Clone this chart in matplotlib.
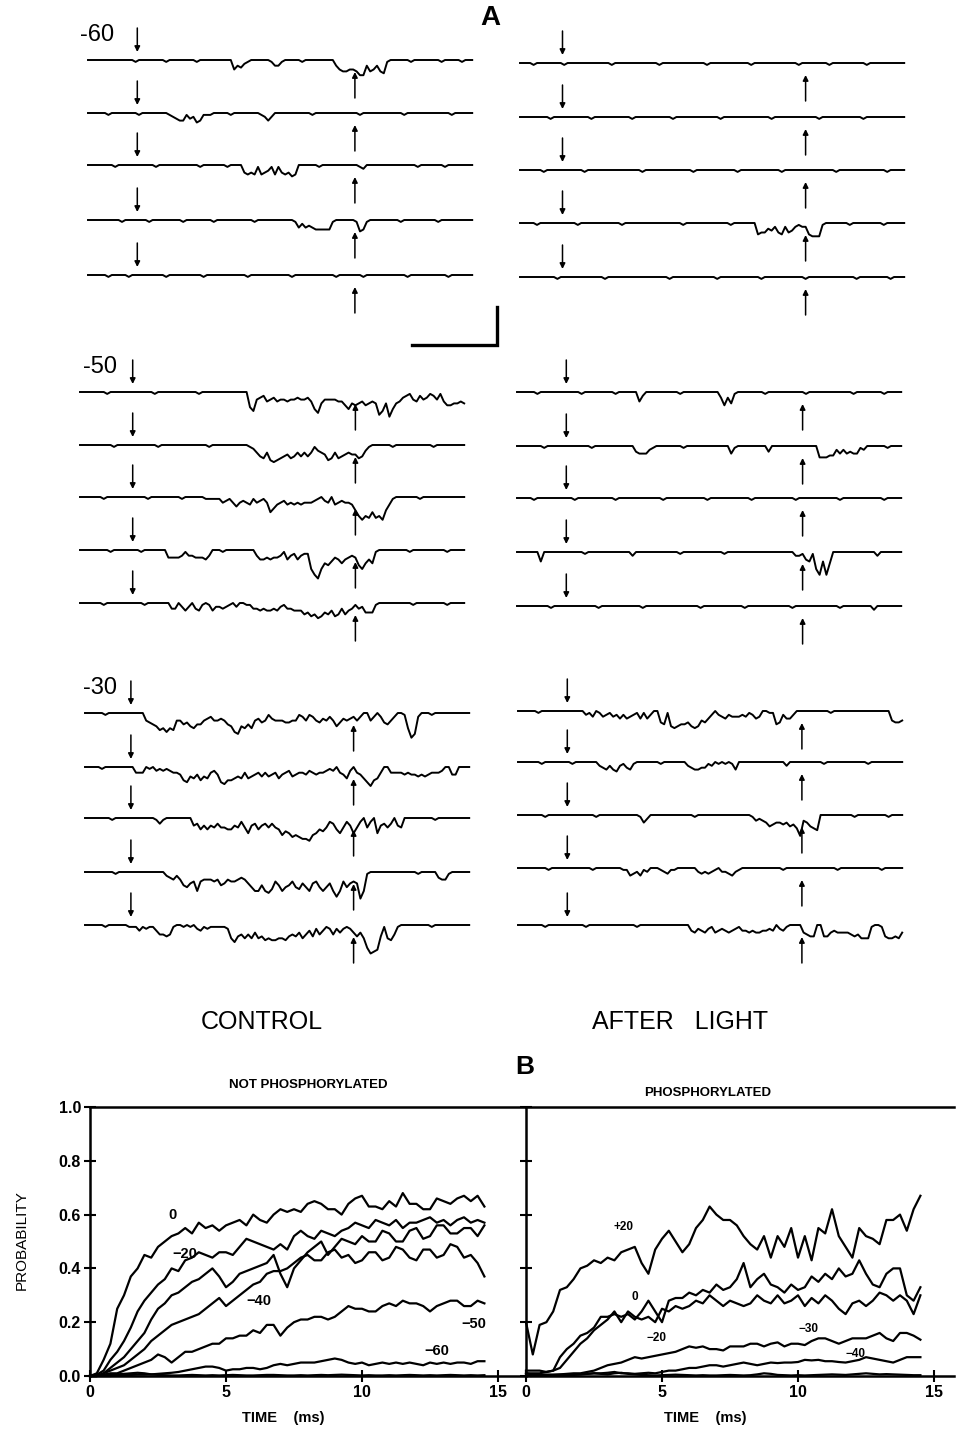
import numpy as np
import matplotlib.pyplot as plt

plt.rcParams['font.family'] = ['Liberation Sans', 'DejaVu Sans']

W, H = 956, 1434
PX_MS = 17.0      # part A: pixels per ms
PX_PA = 19.0      # part A: pixels per pA
DT = 0.2          # ms per sample in the trace codes
N_SAMP = 114
UNIT = 0.1        # pA per hex step in the trace codes

# ---------------- part A data: single-channel records ----------------
# each trace: list of (start ms, hex depth string, one char per 0.2 ms)
ctrl_m60 = [
    [(2.8, "1"), (4.6, "1"), (6.4, "1"), (8.6, "53421"), (10.8, "1331"), (12.6, "1"),
     (14.7, "3566556883653671"), (19.0, "1"), (20.8, "1"), (22.0, "1")],
    [(1.2, "1"), (3.0, "1"), (4.8, "12344132541"), (7.0, "11"), (8.4, "1"), (10.2, "1242"),
     (13.2, "1"), (16.0, "1"), (18.6, "1"), (21.4, "1")],
    [(1.6, "1"), (4.0, "1"), (6.6, "1"), (8.2, "1"), (9.2, "4545154315145465"), (13.6, "1"),
     (16.0, "12"), (19.4, "1"), (21.0, "1")],
    [(2.0, "1"), (3.6, "1"), (5.6, "1"), (7.4, "1"), (9.8, "1"), (12.2, "142434555551"),
     (15.8, "1651"), (18.4, "1"), (20.6, "1")],
    [(1.2, "1"), (2.4, "1"), (4.6, "1"), (6.8, "1"), (9.4, "1"), (12.0, "1"), (14.6, "1"),
     (16.2, "1"), (18.8, "1"), (21.2, "1")],
]
after_m60 = [
    [(0.8, "1"), (2.6, "1"), (5.4, "1"), (8.2, "1"), (11.0, "1"), (13.6, "1"), (16.4, "1"),
     (18.2, "1"), (20.4, "1")],
    [(1.8, "1"), (4.2, "1"), (6.6, "1"), (9.0, "1"), (11.8, "1"), (14.8, "1"), (17.6, "1"),
     (20.2, "1")],
    [(1.4, "1"), (3.8, "1"), (7.2, "1"), (10.2, "1"), (12.8, "1"), (15.4, "1"), (18.6, "1"),
     (21.6, "1")],
    [(1.0, "1"), (3.4, "1"), (6.0, "1"), (9.6, "1"), (12.4, "1"),
     (14.0, "65534256254212267771"), (19.4, "1"), (21.4, "1")],
    [(2.2, "1"), (5.0, "1"), (8.8, "1"), (11.6, "1"), (14.2, "1"), (16.8, "1"), (19.8, "1"),
     (21.8, "1")],
]
ctrl_m50 = [
    [(1.6, "1"), (4.4, "1"), (7.0, "1"),
     (9.8, "08a43254354454434435" "9b64444557967657656c" "a6d9653214524312415776656")],
    [(2.0, "1"), (4.6, "1"), (7.6, "1"), (10.0, "124674898765764646413458747654557631"),
     (18.4, "1"), (20.8, "1")],
    [(1.4, "1"), (4.0, "1"), (6.0, "1"),
     (7.4, "111113213532341321386432434343332102304323347acab8bac741"), (20.0, "1")],
    [(1.8, "1"), (3.6, "1"), (5.2, "44443133444530"), (8.4, "1"),
     (10.4, "3554544315325322adfa78645754348a75710"), (19.4, "1"), (21.6, "1")],
    [(1.4, "1"), (3.8, "1"),
     (5.4, "33024203410142232102001133434434213344465768756476364313255510"),
     (19.6, "1"), (21.6, "1")],
]
after_m50 = [
    [(1.2, "1"), (3.8, "1"), (5.8, "1"), (7.2, "52"), (9.6, "1"), (12.0, "37361"),
     (14.6, "1"), (17.0, "1"), (19.8, "1"), (21.6, "1")],
    [(1.6, "1"), (4.4, "1"), (7.0, "344421"), (9.8, "1"), (12.6, "41"), (14.8, "3"),
     (17.8, "66655242434412"), (21.8, "1")],
    [(1.0, "1"), (3.4, "1"), (5.8, "1"), (8.6, "1"), (11.2, "1"), (13.8, "1"), (16.4, "1"),
     (19.0, "1"), (21.6, "1")],
    [(1.4, "5"), (4.0, "1"), (6.8, "2"), (9.6, "1"), (12.2, "1"), (16.4, "2214519c5c60"),
     (21.2, "2")],
    [(2.0, "1"), (4.8, "1"), (7.4, "1"), (10.8, "1"), (13.4, "1"), (16.2, "1"), (19.0, "1"),
     (21.0, "2")],
]
ctrl_m30 = [
    [(1.2, "1"),
     (3.6, "456798a894" "4657866432" "443467ab78" "6843541344" "4554412412"
           "4534247534" "3242004202" "56420018db" "20"), (20.4, "1")],
    [(1.0, "1"),
     (3.0, "3330102121" "2334785647" "5632489776" "5636543535" "4364325433"
           "4234332120" "346203468a" "7630033334" "3445454333" "200440")],
    [(1.6, "1"), (4.2, "131"),
     (6.4, "4364645355" "6645258436" "435356978a" "9abbc98675" "2368524852"
           "0520843530" "450"), (20.6, "1")],
    [(1.8, "1"),
     (4.8, "234247865a" "544454764" "5543468aa7" "ab957a875" "8968a658a"
           "86ada58656" "ea10"), (19.6, "1"), (20.8, "3441")],
    [(1.2, "1"),
     (2.6, "1113121135" "5651001010" "2312111112" "7965757476" "8788778656"
           "4753625312" "5242124647" "cfed617851" "0"), (20.4, "1")],
]
after_m30 = [
    [(1.2, "1"),
     (3.8, "0213013213" "242432141" "4200671898" "7768985642" "023423332"
           "3124300117" "624420"), (18.4, "1"), (22.0, "5665")],
    [(1.4, "1"), (3.2, "1"), (4.8, "23424521341"), (8.4, "1"),
     (10.0, "2344331201010140"), (15.8, "2"), (18.0, "1"), (20.6, "1")],
    [(1.6, "1"), (4.6, "1"), (7.2, "142"), (10.4, "1"),
     (13.8, "13234654454657b346780"), (19.8, "1"), (21.8, "1")],
    [(1.8, "1"), (4.4, "1"), (6.2, "1143241200012311"), (10.6, "2323210223421"),
     (15.6, "1"), (18.8, "1"), (21.4, "1")],
    [(1.6, "1"), (4.0, "1"), (7.0, "1"),
     (10.2, "3423421432" "3432133434" "4332302310" "0004566006" "6434444565"
            "7771001677" "674")],
]

row_labels = ["-60", "-50", "-30"]
ctrl_stim = [(2.9, 15.7), (3.1, 16.2), (2.7, 15.8)]     # ms, pulse on / off
after_stim = [(2.5, 16.8), (2.9, 16.8), (2.9, 16.7)]
scale_ms, scale_pa = 5, 2

# ---------------- part B data: open probability ----------------
t_ms = np.arange(59) * 0.25

np_0 = [0.00, 0.01, 0.06, 0.12, 0.25, 0.30, 0.37, 0.40, 0.45, 0.44,
        0.48, 0.50, 0.52, 0.53, 0.55, 0.53, 0.57, 0.55, 0.56, 0.54,
        0.56, 0.57, 0.58, 0.56, 0.60, 0.58, 0.57, 0.60, 0.62, 0.61,
        0.62, 0.61, 0.64, 0.65, 0.64, 0.62, 0.62, 0.60, 0.64, 0.66,
        0.67, 0.63, 0.63, 0.62, 0.65, 0.63, 0.68, 0.64, 0.64, 0.62,
        0.62, 0.66, 0.65, 0.64, 0.66, 0.67, 0.65, 0.67, 0.63]
np_m20 = [0, 0.005, 0.02, 0.06, 0.09, 0.13, 0.18, 0.24, 0.28, 0.31,
          0.34, 0.36, 0.40, 0.39, 0.43, 0.44, 0.46, 0.45, 0.44, 0.46,
          0.46, 0.45, 0.48, 0.51, 0.50, 0.49, 0.48, 0.47, 0.49, 0.47,
          0.52, 0.54, 0.52, 0.51, 0.54, 0.53, 0.52, 0.54, 0.55, 0.57,
          0.56, 0.55, 0.58, 0.57, 0.56, 0.58, 0.55, 0.57, 0.57, 0.58,
          0.59, 0.57, 0.58, 0.56, 0.58, 0.59, 0.57, 0.58, 0.57]
np_m30 = [0, 0, 0.01, 0.03, 0.05, 0.07, 0.10, 0.13, 0.16, 0.21,
          0.25, 0.27, 0.30, 0.31, 0.33, 0.35, 0.36, 0.38, 0.40, 0.37,
          0.33, 0.35, 0.38, 0.39, 0.40, 0.41, 0.42, 0.45, 0.38, 0.33,
          0.40, 0.43, 0.46, 0.48, 0.50, 0.45, 0.48, 0.51, 0.50, 0.49,
          0.52, 0.50, 0.50, 0.54, 0.53, 0.50, 0.50, 0.54, 0.55, 0.51,
          0.52, 0.56, 0.56, 0.53, 0.53, 0.55, 0.55, 0.52, 0.56]
np_m40 = [0, 0, 0.01, 0.02, 0.03, 0.04, 0.06, 0.08, 0.10, 0.13,
          0.15, 0.17, 0.19, 0.20, 0.21, 0.22, 0.23, 0.25, 0.27, 0.29,
          0.26, 0.28, 0.30, 0.32, 0.34, 0.35, 0.38, 0.39, 0.39, 0.40,
          0.42, 0.44, 0.45, 0.43, 0.43, 0.46, 0.47, 0.44, 0.45, 0.42,
          0.43, 0.46, 0.46, 0.43, 0.44, 0.48, 0.47, 0.44, 0.43, 0.47,
          0.47, 0.44, 0.45, 0.49, 0.48, 0.44, 0.45, 0.42, 0.37]
np_m50 = [0, 0, 0.005, 0.01, 0.01, 0.02, 0.03, 0.04, 0.05, 0.06,
          0.08, 0.07, 0.05, 0.07, 0.09, 0.09, 0.10, 0.11, 0.12, 0.12,
          0.14, 0.14, 0.15, 0.15, 0.17, 0.16, 0.19, 0.19, 0.15, 0.18,
          0.20, 0.21, 0.21, 0.22, 0.22, 0.21, 0.22, 0.24, 0.26, 0.25,
          0.25, 0.24, 0.24, 0.26, 0.27, 0.26, 0.28, 0.27, 0.27, 0.26,
          0.24, 0.26, 0.27, 0.28, 0.28, 0.26, 0.26, 0.28, 0.27]
np_m60 = [0, 0, 0, 0, 0.002, 0.003, 0.004, 0.005, 0.005, 0.006,
          0.008, 0.01, 0.012, 0.015, 0.02, 0.025, 0.03, 0.035, 0.035, 0.03,
          0.02, 0.025, 0.025, 0.03, 0.03, 0.025, 0.03, 0.04, 0.045, 0.04,
          0.045, 0.05, 0.05, 0.05, 0.055, 0.06, 0.065, 0.06, 0.05, 0.045,
          0.05, 0.04, 0.045, 0.05, 0.045, 0.05, 0.045, 0.05, 0.045, 0.04,
          0.05, 0.045, 0.05, 0.045, 0.05, 0.05, 0.045, 0.055, 0.055]
np_m70 = [0, 0, 0.002, 0.004, 0.006, 0.008, 0.01, 0.012, 0.01, 0.006,
          0.004, 0.003, 0.002, 0.002, 0.003, 0.004, 0.003, 0.002, 0.003, 0.002,
          0.003, 0.004, 0.003, 0.002, 0.002, 0.003, 0.004, 0.004, 0.003, 0.002,
          0.002, 0.003, 0.002, 0.003, 0.004, 0.003, 0.004, 0.005, 0.004, 0.003,
          0.002, 0.003, 0.002, 0.002, 0.003, 0.002, 0.003, 0.004, 0.003, 0.002,
          0.003, 0.002, 0.003, 0.004, 0.003, 0.002, 0.003, 0.002, 0.003]

ph_p20 = [0.20, 0.08, 0.19, 0.20, 0.24, 0.32, 0.33, 0.36, 0.40, 0.41,
          0.43, 0.42, 0.44, 0.43, 0.46, 0.47, 0.48, 0.42, 0.38, 0.47,
          0.51, 0.54, 0.50, 0.46, 0.49, 0.55, 0.58, 0.63, 0.60, 0.58,
          0.58, 0.56, 0.52, 0.49, 0.47, 0.52, 0.44, 0.52, 0.48, 0.55,
          0.44, 0.52, 0.43, 0.55, 0.53, 0.62, 0.52, 0.48, 0.44, 0.55,
          0.52, 0.51, 0.49, 0.58, 0.58, 0.60, 0.54, 0.62, 0.67]
ph_0 = [0.02, 0.02, 0.02, 0.015, 0.02, 0.07, 0.10, 0.12, 0.15, 0.16,
        0.18, 0.22, 0.22, 0.23, 0.22, 0.23, 0.21, 0.24, 0.28, 0.24,
        0.20, 0.28, 0.29, 0.29, 0.31, 0.30, 0.32, 0.31, 0.34, 0.32,
        0.33, 0.36, 0.42, 0.33, 0.36, 0.38, 0.34, 0.33, 0.31, 0.34,
        0.32, 0.33, 0.37, 0.35, 0.38, 0.36, 0.40, 0.37, 0.38, 0.43,
        0.38, 0.34, 0.33, 0.38, 0.40, 0.40, 0.30, 0.28, 0.33]
ph_m20 = [0.01, 0.01, 0.01, 0.015, 0.02, 0.03, 0.06, 0.09, 0.12, 0.14,
          0.17, 0.19, 0.21, 0.24, 0.20, 0.24, 0.22, 0.21, 0.22, 0.20,
          0.25, 0.24, 0.26, 0.25, 0.26, 0.28, 0.27, 0.30, 0.28, 0.26,
          0.28, 0.27, 0.26, 0.27, 0.30, 0.28, 0.27, 0.30, 0.27, 0.28,
          0.30, 0.26, 0.29, 0.27, 0.30, 0.28, 0.25, 0.23, 0.27, 0.28,
          0.26, 0.28, 0.31, 0.30, 0.28, 0.30, 0.28, 0.23, 0.30]
ph_m30 = [0, 0.003, 0.005, 0.005, 0.005, 0.006, 0.008, 0.01, 0.01, 0.015,
          0.02, 0.03, 0.04, 0.045, 0.05, 0.06, 0.07, 0.065, 0.07, 0.075,
          0.08, 0.085, 0.09, 0.10, 0.11, 0.105, 0.11, 0.10, 0.10, 0.095,
          0.11, 0.11, 0.11, 0.12, 0.12, 0.11, 0.12, 0.125, 0.11, 0.12,
          0.12, 0.115, 0.13, 0.14, 0.14, 0.13, 0.12, 0.13, 0.14, 0.14,
          0.14, 0.15, 0.16, 0.14, 0.13, 0.16, 0.16, 0.15, 0.135]
ph_m40 = [0, 0.002, 0.003, 0.004, 0.004, 0.005, 0.005, 0.006, 0.006, 0.008,
          0.01, 0.01, 0.012, 0.015, 0.01, 0.01, 0.008, 0.01, 0.012, 0.01,
          0.015, 0.02, 0.02, 0.025, 0.03, 0.03, 0.035, 0.04, 0.04, 0.035,
          0.04, 0.045, 0.05, 0.045, 0.04, 0.045, 0.05, 0.048, 0.05, 0.05,
          0.052, 0.06, 0.058, 0.06, 0.055, 0.055, 0.052, 0.05, 0.055, 0.06,
          0.07, 0.065, 0.06, 0.055, 0.05, 0.06, 0.07, 0.07, 0.07]
ph_m50 = [0.01, 0.005, 0.003, 0.002, 0.002, 0.002, 0.003, 0.004, 0.006, 0.008,
          0.01, 0.008, 0.006, 0.01, 0.012, 0.008, 0.006, 0.004, 0.003, 0.002,
          0.003, 0.004, 0.005, 0.004, 0.003, 0.002, 0.003, 0.002, 0.002, 0.003,
          0.004, 0.003, 0.002, 0.003, 0.006, 0.01, 0.008, 0.004, 0.003, 0.002,
          0.003, 0.002, 0.003, 0.004, 0.005, 0.006, 0.005, 0.004, 0.006, 0.008,
          0.01, 0.008, 0.006, 0.007, 0.006, 0.005, 0.004, 0.003, 0.003]

np_curves = [np_0, np_m20, np_m30, np_m40, np_m50, np_m60, np_m70]
ph_curves = [ph_p20, ph_0, ph_m20, ph_m30, ph_m40, ph_m50]
np_labels = [("0", 3.05, 0.60), ("\u221220", 3.5, 0.455), ("\u221240", 6.2, 0.28),
             ("\u221250", 14.1, 0.195), ("\u221260", 12.75, 0.093)]
ph_labels = [("+20", 3.6, 0.555), ("0", 4.0, 0.295), ("\u221220", 4.8, 0.14),
             ("\u221230", 10.4, 0.173), ("\u221240", 12.1, 0.082)]

# ---------------- layout (figure pixels) ----------------
ctrl_x0 = [88, 80, 85]
after_x0 = [520, 517, 518]
ctrl_base = [[60, 113, 165, 220, 275], [392, 445, 497, 550, 603], [713, 767, 818, 872, 925]]
after_base = [[63, 117, 170, 223, 277], [392, 446, 498, 552, 606], [711, 762, 815, 868, 925]]
label_pos = [(80, 35), (83, 367), (83, 688)]

fig = plt.figure(figsize=(W / 100, H / 100), dpi=100)

A_H = 1000
ax_a = fig.add_axes([0, 1 - A_H / H, 1, A_H / H])
ax_a.set_xlim(0, W / PX_MS)
ax_a.set_ylim(-A_H / PX_PA, 0)
ax_a.axis('off')


def decode(events):
    depth = np.zeros(N_SAMP)
    for start, code in events:
        i0 = int(round(start / DT))
        for j, ch in enumerate(code):
            if i0 + j < N_SAMP:
                depth[i0 + j] = int(ch, 16)
    return -UNIT * depth


def arrow(x, y_tail, y_tip):
    ax_a.annotate('', xy=(x, -y_tip / PX_PA), xytext=(x, -y_tail / PX_PA),
                  arrowprops=dict(arrowstyle='-|>', color='black', lw=1.1,
                                  mutation_scale=8, shrinkA=0, shrinkB=0))


t_tr = np.arange(N_SAMP) * DT
groups = [(ctrl_m60, after_m60), (ctrl_m50, after_m50), (ctrl_m30, after_m30)]
for r, (ctrl, after) in enumerate(groups):
    for traces, x0s, bases, stims in ((ctrl, ctrl_x0, ctrl_base, ctrl_stim),
                                      (after, after_x0, after_base, after_stim)):
        x0 = x0s[r] / PX_MS
        on, off = stims[r]
        for k, ev in enumerate(traces):
            b = bases[r][k]
            ax_a.plot(x0 + t_tr, -b / PX_PA + decode(ev), color='black', lw=1.4,
                      solid_joinstyle='round')
            arrow(x0 + on, b - 32, b - 8)
            arrow(x0 + off, b + 38, b + 12)
    lx, ly = label_pos[r]
    fig.text(lx / W, 1 - ly / H, row_labels[r], fontsize=17, ha='left', va='center')

# scale bar (5 ms, 2 pA)
sb_x, sb_y = 497 / PX_MS, -345 / PX_PA
ax_a.plot([sb_x - scale_ms, sb_x, sb_x], [sb_y, sb_y, sb_y + scale_pa],
          color='black', lw=2.4, solid_joinstyle='miter')

fig.text(490 / W, 1 - 18 / H, "A", fontsize=20, fontweight='bold', ha='center', va='center')
fig.text(262 / W, 1 - 1022 / H, "CONTROL", fontsize=18, ha='center', va='center')
fig.text(680 / W, 1 - 1022 / H, "AFTER   LIGHT", fontsize=18, ha='center', va='center')
fig.text(525 / W, 1 - 1067 / H, "B", fontsize=19, fontweight='bold', ha='center', va='center')

# ---------------- part B axes ----------------
B_BOT, B_TOP = 1376, 1107
PX_MS_B = 27.2
ax1 = fig.add_axes([90 / W, 1 - B_BOT / H, 16.0 * PX_MS_B / W, (B_BOT - B_TOP) / H])
ax2 = fig.add_axes([526 / W, 1 - B_BOT / H, 15.75 * PX_MS_B / W, (B_BOT - B_TOP) / H])

for ax, curves, labels, xmax in ((ax1, np_curves, np_labels, 16.0),
                                 (ax2, ph_curves, ph_labels, 15.75)):
    for c in curves:
        ax.plot(t_ms, c, color='black', lw=1.6, clip_on=False)
    lsize = 10.5 if ax is ax1 else 8.5
    for txt, x, y in labels:
        ax.text(x, y, txt, fontsize=lsize, fontweight='bold', ha='center', va='center')
    ax.set_xlim(0, xmax)
    ax.set_ylim(0, 1.0)
    ax.spines['right'].set_visible(False)
    for s in ('left', 'bottom', 'top'):
        ax.spines[s].set_linewidth(1.8)
    ax.set_xticks([0, 5, 10, 15])
    ax.set_yticks([0, 0.2, 0.4, 0.6, 0.8, 1.0])
    ax.tick_params(direction='inout', length=9, width=1.5, labelsize=11.5, pad=2)
    for lab in ax.get_xticklabels():
        lab.set_fontweight('bold')

ax1.set_yticklabels(["0.0", "0.2", "0.4", "0.6", "0.8", "1.0"], fontweight='bold')
ax2.set_yticklabels([])

fig.text(308 / W, 1 - 1085 / H, "NOT PHOSPHORYLATED", fontsize=9.5, fontweight='bold',
         ha='center', va='center')
fig.text(708 / W, 1 - 1093 / H, "PHOSPHORYLATED", fontsize=9.5, fontweight='bold',
         ha='center', va='center')
fig.text(22 / W, 1 - 1240 / H, "PROBABILITY", fontsize=11, rotation=90,
         ha='center', va='center')
fig.text(283 / W, 1 - 1418 / H, "TIME    (ms)", fontsize=10.5, fontweight='bold',
         ha='center', va='center')
fig.text(705 / W, 1 - 1418 / H, "TIME    (ms)", fontsize=10.5, fontweight='bold',
         ha='center', va='center')

fig.savefig("out.png", dpi=100)
